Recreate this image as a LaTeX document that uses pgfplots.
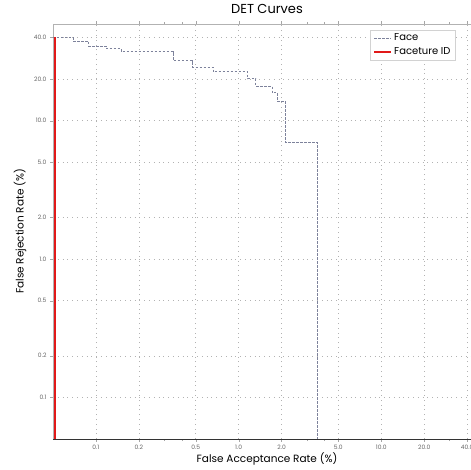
\documentclass[border=0pt]{standalone}
\usepackage{pgfplots}
\pgfplotsset{compat=1.18}
\usepackage{fontspec}
\setmainfont{Poppins}
\definecolor{facecol}{RGB}{125,130,155}
\definecolor{fidred}{RGB}{225,25,25}
\begin{document}
\begin{tikzpicture}
\begin{axis}[
  scale only axis, width=428pt, height=415pt,
  xmode=log, ymode=log,
  xmin=0.05, xmax=50, ymin=0.05, ymax=50,
  xtick={0.1,0.2,0.5,1,2,5,10,20,40},
  xticklabels={0.1,0.2,0.5,1.0,2.0,5.0,10.0,20.0,40.0},
  ytick={0.1,0.2,0.5,1,2,5,10,20,40},
  yticklabels={0.1,0.2,0.5,1.0,2.0,5.0,10.0,20.0,40.0},
  minor xtick={0.3,0.4,3,4,30}, minor ytick={},
  grid=major, grid style={dash pattern=on 0.8pt off 4pt, gray!60},
  tick align=outside, major tick length=3pt, minor tick length=2pt,
  tick style={gray!70},
  axis line style={gray!60},
  tick label style={font=\fontsize{6}{7}\selectfont, text=black!60},
  xlabel={False Acceptance Rate (\%)},
  ylabel={False Rejection Rate (\%)},
  label style={font=\fontsize{10.5}{12}\selectfont},
  xlabel style={at={(axis description cs:0.5,-0.047)}, anchor=center},
  ylabel style={at={(axis description cs:-0.077,0.5)}, anchor=center},
  title={DET Curves},
  title style={font=\fontsize{13}{15}\selectfont, at={(axis description cs:0.5,1.012)}, anchor=base},
  legend style={at={(axis description cs:0.741,0.986)}, anchor=north west,
    draw=gray!35, font=\fontsize{10}{12}\selectfont, row sep=1pt,
    inner xsep=3pt, inner ysep=2pt},
  legend cell align=left,
]
\addplot[facecol, line width=0.7pt, dash pattern=on 2.5pt off 1.5pt] coordinates {
  (0.05,40) (0.069,40) (0.069,37.5) (0.089,37.5) (0.089,34.5) (0.119,34.5)
  (0.119,33.1) (0.150,33.1) (0.150,31.5) (0.347,31.5) (0.347,27.2) (0.471,27.2)
  (0.471,24.5) (0.660,24.5) (0.660,22.6) (1.16,22.6) (1.16,20.1) (1.32,20.1)
  (1.32,17.7) (1.71,17.7) (1.71,16.0) (1.86,16.0) (1.86,13.8) (2.12,13.8)
  (2.12,7.0) (3.55,7.0) (3.55,0.05)
};
\addlegendentry{Face}
\addplot[fidred, line width=1.8pt] coordinates {(0.0515,0.05) (0.0515,40)};
\addlegendentry{Faceture ID}
\draw[black!80] (rel axis cs:0,0) -- (rel axis cs:1,0);
\end{axis}
\pgfresetboundingbox
\path[use as bounding box] ([shift={(-53pt,-30pt)}]current axis.south west) rectangle ([shift={(418pt,439pt)}]current axis.south west);
\end{tikzpicture}
\end{document}
